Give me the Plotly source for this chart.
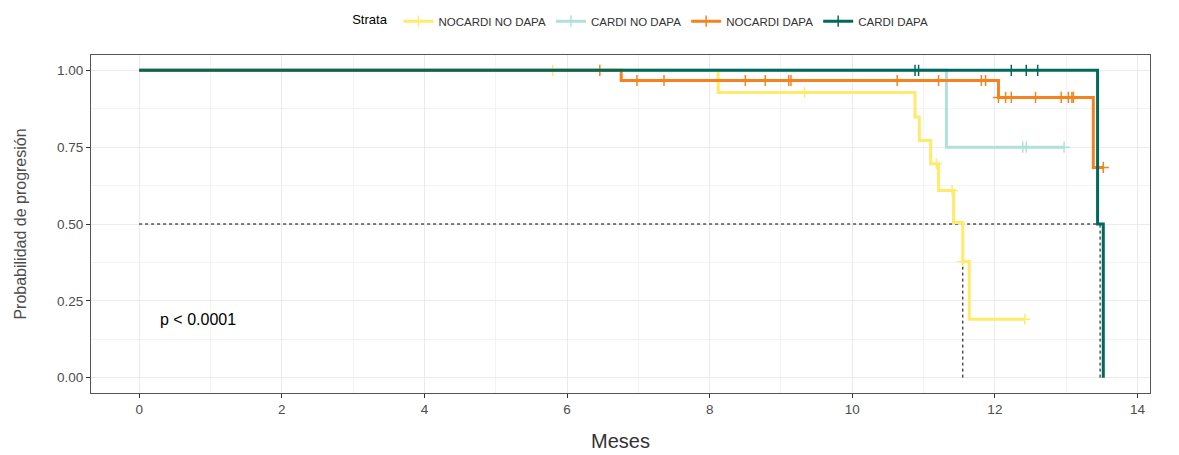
import plotly.graph_objects as go

# ---- data ----
strata = ["NOCARDI NO DAPA", "CARDI NO DAPA", "NOCARDI DAPA", "CARDI DAPA"]
colors = ["#FFEB6B", "#B2DFDB", "#F5821F", "#00695C"]

# event times / survival steps per stratum
t_nocardi_nodapa = [0, 8.12, 10.88, 10.94, 11.10, 11.21, 11.42, 11.55, 11.64, 12.42]
s_nocardi_nodapa = [1.0, 0.928, 0.848, 0.772, 0.696, 0.609, 0.505, 0.378, 0.190, 0.190]
c_nocardi_nodapa = [5.80, 9.33, 11.18, 11.40, 11.55, 12.42]

t_cardi_nodapa = [0, 11.32, 12.97]
s_cardi_nodapa = [1.0, 0.75, 0.75]
c_cardi_nodapa = [12.39, 12.44, 12.97]

t_nocardi_dapa = [0, 6.76, 12.05, 13.38, 13.52]
s_nocardi_dapa = [1.0, 0.967, 0.912, 0.684, 0.684]
c_nocardi_dapa = [6.46, 6.98, 7.36, 8.50, 8.78, 9.11, 9.14, 10.63, 11.21, 11.81,
                  11.87, 12.05, 12.15, 12.23, 12.57, 12.93, 13.03, 13.08, 13.10, 13.52]

t_cardi_dapa = [0, 13.44, 13.52]
s_cardi_dapa = [1.0, 0.5, 0.0]
c_cardi_dapa = [10.88, 10.93, 12.23, 12.44, 12.60]

medians = [11.55, 13.475]
p_text = "p < 0.0001"

x_ticks = [0, 2, 4, 6, 8, 10, 12, 14]
y_ticks = [0.0, 0.25, 0.5, 0.75, 1.0]
y_tick_labels = ["0.00", "0.25", "0.50", "0.75", "1.00"]

curves = [
    (t_nocardi_nodapa, s_nocardi_nodapa, c_nocardi_nodapa),
    (t_cardi_nodapa, s_cardi_nodapa, c_cardi_nodapa),
    (t_nocardi_dapa, s_nocardi_dapa, c_nocardi_dapa),
    (t_cardi_dapa, s_cardi_dapa, c_cardi_dapa),
]


def surv_at(times, surv, t):
    val = surv[0]
    for ti, si in zip(times, surv):
        if ti <= t:
            val = si
    return val


fig = go.Figure()

# median reference lines (drawn under curves)
dash_style = dict(color="black", width=1, dash="3px,3px")
fig.add_trace(go.Scatter(x=[0, max(medians)], y=[0.5, 0.5], mode="lines",
                         line=dash_style, showlegend=False, hoverinfo="skip"))
for m in medians:
    fig.add_trace(go.Scatter(x=[m, m], y=[0, 0.5], mode="lines",
                             line=dash_style, showlegend=False, hoverinfo="skip"))

for name, col, (t, s, c) in zip(strata, colors, curves):
    fig.add_trace(go.Scatter(x=t, y=s, mode="lines", line_shape="hv",
                             line=dict(color=col, width=3),
                             showlegend=False, hoverinfo="skip"))
    fig.add_trace(go.Scatter(x=c, y=[surv_at(t, s, ci) for ci in c], mode="markers",
                             marker=dict(symbol="cross-thin", size=8,
                                         line=dict(color=col, width=1.5)),
                             showlegend=False, hoverinfo="skip"))
    # legend entry
    fig.add_trace(go.Scatter(x=[None], y=[None], mode="lines+markers", name=name,
                             line=dict(color=col, width=3),
                             marker=dict(symbol="cross-thin", size=8,
                                         line=dict(color=col, width=1.5))))

fig.add_annotation(x=0.83, y=0.19, xref="x", yref="y", text=p_text, showarrow=False,
                   font=dict(size=16, color="black"))

axis_common = dict(showline=True, mirror=True, linecolor="#555555", linewidth=1,
                   ticks="outside", ticklen=4, tickcolor="#333333",
                   showgrid=True, gridcolor="#EBEBEB", gridwidth=1,
                   tickfont=dict(size=13.5, color="#4D4D4D"), zeroline=False,
                   automargin=False)

fig.update_xaxes(range=[-0.675, 14.175], tickvals=x_ticks,
                 minor=dict(dtick=1, tick0=1, showgrid=True, gridcolor="#F3F3F3", gridwidth=1, ticks=""),
                 title=dict(text="Meses", font=dict(size=20, color="#333333"), standoff=17),
                 **axis_common)
fig.update_yaxes(range=[-0.05, 1.05], tickvals=y_ticks, ticktext=y_tick_labels,
                 minor=dict(dtick=0.125, tick0=0.125, showgrid=True, gridcolor="#F3F3F3", gridwidth=1, ticks=""),
                 title=dict(text="Probabilidad de progresión", font=dict(size=16, color="#4D4D4D"), standoff=26),
                 **axis_common)

fig.update_layout(
    width=1179, height=455,
    margin=dict(l=91, r=29, t=55, b=62, autoexpand=False),
    paper_bgcolor="white", plot_bgcolor="white",
    font=dict(family="Liberation Sans, Arial, sans-serif"),
    legend=dict(orientation="h", x=0.52, xanchor="center", y=1.10, yanchor="middle",
                title=dict(text="Strata ", font=dict(size=13, color="black")),
                font=dict(size=11.5, color="#333333"), itemwidth=30,
                bgcolor="rgba(0,0,0,0)"),
)

fig.write_html("out.html")
